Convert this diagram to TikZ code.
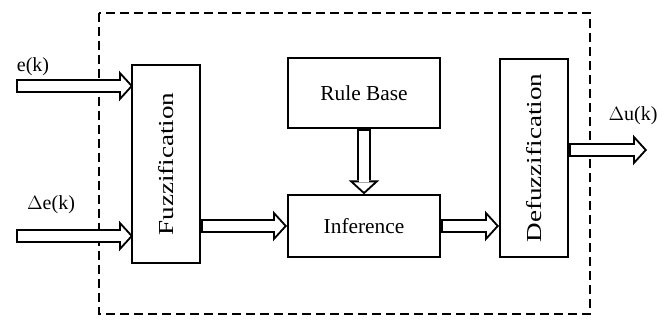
\documentclass[tikz,border=0pt]{standalone}
\usepackage{fontspec}
\setmainfont{Liberation Serif}
\usetikzlibrary{arrows.meta,calc}

\tikzset{
  block/.style={draw, line width=1.5pt, fill=white, inner sep=0pt, font=\fontsize{16}{19}\selectfont},
  vtext/.style={rotate=90, xscale=1.27, font=\fontsize{16}{19}\selectfont},
  sig/.style={font=\fontsize{15}{18}\selectfont},
  blk/.style={line width=10.5pt, -{Triangle[length=10.5pt,width=23pt,line width=0pt]},
    postaction={draw=white, line width=7.5pt, shorten <=1.5pt, shorten >=2pt,
      -{Triangle[length=7pt,width=15.3pt,line width=0pt]}}},
  outline/.style={line width=1.1pt, dash pattern=on 7pt off 3.5pt}
}

\begin{document}
\begin{tikzpicture}[x=0.75pt, y=-0.75pt]
\useasboundingbox (0,0) rectangle (667,320);

\draw[outline] (99,13) rectangle (590,314);

\coordinate (ein) at (16,86);
\coordinate (dein) at (16,236);
\coordinate (out) at (647,150);

\node[sig] (lek) at (33,67) {e(k)};
\node[sig] (ldek) at (51,205) {$\Delta$e(k)};
\node[sig] (lduk) at (633,116) {$\Delta$u(k)};

\draw[blk] (ein) -- (ein -| 133,0);
\draw[blk] (dein) -- (dein -| 133,0);

\node[block, minimum width=51pt, minimum height=148.5pt] (fuzz) at (166,164) {};
\node[vtext] (lfuzz) at (fuzz.center) {Fuzzification};

\node[block, minimum width=114pt, minimum height=52pt] (rules) at (364,93) {Rule Base};
\node[block, minimum width=114pt, minimum height=46pt] (infer) at (364,226) {Inference};

\node[block, minimum width=51pt, minimum height=148.5pt] (defuzz) at (534,158) {};
\node[vtext] (ldefuzz) at (defuzz.center) {Defuzzification};

\draw[blk] (fuzz.east |- infer) -- (infer.west);
\draw[blk] (rules.south) -- (infer.north);
\draw[blk] (infer.east) -- (infer -| defuzz.west);
\draw[blk] (defuzz.east |- out) -- (out);
\end{tikzpicture}
\end{document}
